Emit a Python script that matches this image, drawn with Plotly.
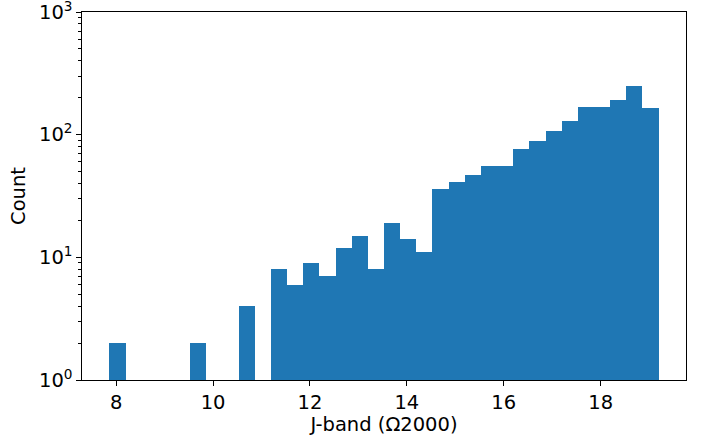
import numpy as np
import plotly.graph_objects as go

# Histogram data
bin_start = 7.862
bin_width = 1.0 / 3.0
counts = [2, 0, 0, 0, 0, 2, 0, 0, 4, 0, 8, 6, 9, 7, 12, 15, 8, 19, 14, 11,
          36, 41, 47, 56, 56, 76, 89, 107, 129, 168, 168, 191, 249, 165]

x_ticks = [8, 10, 12, 14, 16, 18]
y_tick_vals = [1, 10, 100, 1000]
y_tick_text = ["10<sup>0</sup>", "10<sup>1</sup>", "10<sup>2</sup>", "10<sup>3</sup>"]
minor_vals = [m * 10 ** d for d in range(3) for m in range(2, 10)]

edges = bin_start + bin_width * np.arange(len(counts) + 1)
centers = (edges[:-1] + edges[1:]) / 2
yvals = [c if c > 0 else None for c in counts]

span = edges[-1] - edges[0]
xr = [edges[0] - 0.05 * span, edges[-1] + 0.05 * span]

fig = go.Figure(go.Bar(
    x=centers, y=yvals, width=bin_width,
    marker=dict(color="#1f77b4", line=dict(width=0)),
    hoverinfo="x+y",
))

font = dict(family="DejaVu Sans", size=19.5, color="black")
fig.update_layout(
    width=703, height=436,
    margin=dict(l=82, r=17, t=12, b=56),
    paper_bgcolor="white", plot_bgcolor="white",
    font=font, bargap=0, showlegend=False,
    xaxis=dict(
        range=xr, tickmode="array", tickvals=x_ticks,
        ticks="outside", ticklen=4.5, tickwidth=1.1, tickcolor="black",
        showline=True, linecolor="black", linewidth=1.2, mirror=True,
        showgrid=False, zeroline=False, automargin=False,
        ticklabeloverflow="allow",
        title=dict(text="J-band (Ω2000)", standoff=3, font=font),
        tickfont=font,
    ),
    yaxis=dict(
        type="log", range=[0, 3], tickmode="array",
        tickvals=y_tick_vals, ticktext=y_tick_text,
        ticks="outside", ticklen=4.5, tickwidth=1.1, tickcolor="black",
        minor=dict(tickmode="array", tickvals=minor_vals, ticks="outside",
                   ticklen=2.5, tickwidth=0.9, tickcolor="black", showgrid=False),
        showline=True, linecolor="black", linewidth=1.2, mirror=True,
        showgrid=False, zeroline=False, automargin=False,
        ticklabeloverflow="allow",
        title=dict(text="Count", standoff=8, font=font),
        tickfont=font,
    ),
)

fig.write_html("out.html", config={"displayModeBar": False},
               post_script="document.body.style.margin='0';")
